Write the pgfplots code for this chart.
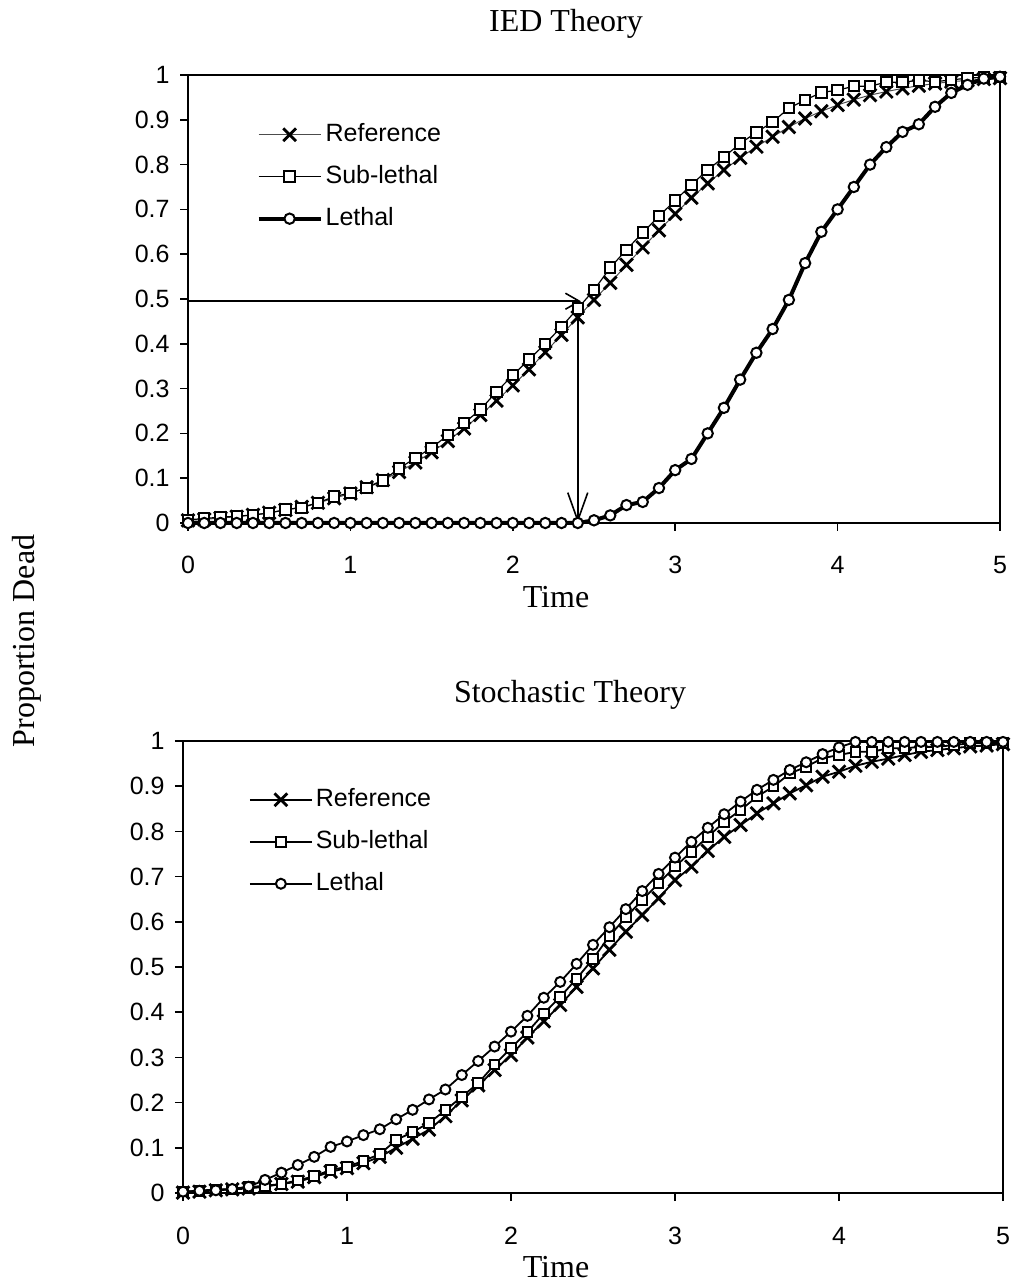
\documentclass[border=0pt]{standalone}
\usepackage{pgfplots}
\pgfplotsset{compat=1.18}
\usepackage{pgfplotstable}
\usepackage{fontspec}
\setmainfont{Liberation Serif}
\setsansfont{Liberation Sans}
\usetikzlibrary{arrows.meta}

% Proportion dead against time, IED theory
\pgfplotstableread{
t    ref    sub    leth
0.0  0.006  0.007  0
0.1  0.008  0.010  0
0.2  0.011  0.013  0
0.3  0.014  0.015  0
0.4  0.018  0.018  0
0.5  0.023  0.022  0
0.6  0.029  0.030  0
0.7  0.036  0.034  0
0.8  0.045  0.045  0
0.9  0.055  0.059  0
1.0  0.066  0.067  0
1.1  0.080  0.078  0
1.2  0.096  0.095  0
1.3  0.114  0.122  0
1.4  0.135  0.145  0
1.5  0.158  0.168  0
1.6  0.183  0.196  0
1.7  0.211  0.223  0
1.8  0.241  0.253  0
1.9  0.273  0.293  0
2.0  0.307  0.330  0
2.1  0.343  0.365  0
2.2  0.381  0.400  0
2.3  0.420  0.438  0
2.4  0.459  0.479  0
2.5  0.498  0.520  0.006
2.6  0.536  0.570  0.017
2.7  0.576  0.610  0.040
2.8  0.615  0.648  0.047
2.9  0.653  0.685  0.078
3.0  0.690  0.720  0.118
3.1  0.726  0.755  0.143
3.2  0.758  0.788  0.200
3.3  0.788  0.817  0.257
3.4  0.815  0.847  0.320
3.5  0.840  0.872  0.380
3.6  0.862  0.895  0.433
3.7  0.884  0.926  0.498
3.8  0.903  0.944  0.580
3.9  0.919  0.961  0.650
4.0  0.933  0.966  0.700
4.1  0.945  0.975  0.750
4.2  0.955  0.975  0.800
4.3  0.963  0.984  0.839
4.4  0.970  0.984  0.873
4.5  0.976  0.988  0.890
4.6  0.981  0.985  0.929
4.7  0.985  0.989  0.960
4.8  0.988  0.993  0.978
4.9  0.991  0.995  0.992
5.0  0.993  0.996  0.996
}\ied

% Proportion dead against time, stochastic theory
\pgfplotstableread{
t    ref    sub    leth
0.0  0.001  0.003  0.003
0.1  0.003  0.005  0.005
0.2  0.006  0.008  0.006
0.3  0.008  0.008  0.009
0.4  0.010  0.013  0.014
0.5  0.014  0.016  0.029
0.6  0.020  0.020  0.045
0.7  0.025  0.028  0.062
0.8  0.035  0.037  0.080
0.9  0.047  0.051  0.102
1.0  0.055  0.058  0.114
1.1  0.066  0.071  0.128
1.2  0.080  0.086  0.141
1.3  0.100  0.117  0.163
1.4  0.120  0.135  0.184
1.5  0.140  0.155  0.207
1.6  0.170  0.183  0.229
1.7  0.205  0.213  0.261
1.8  0.238  0.243  0.292
1.9  0.272  0.284  0.324
2.0  0.305  0.321  0.357
2.1  0.344  0.356  0.392
2.2  0.380  0.397  0.432
2.3  0.416  0.434  0.467
2.4  0.456  0.474  0.507
2.5  0.497  0.518  0.549
2.6  0.538  0.568  0.588
2.7  0.578  0.610  0.628
2.8  0.615  0.648  0.668
2.9  0.652  0.685  0.706
3.0  0.692  0.722  0.742
3.1  0.722  0.755  0.777
3.2  0.757  0.788  0.808
3.3  0.788  0.821  0.838
3.4  0.814  0.847  0.866
3.5  0.840  0.877  0.892
3.6  0.862  0.899  0.914
3.7  0.884  0.928  0.936
3.8  0.902  0.943  0.953
3.9  0.921  0.962  0.971
4.0  0.932  0.969  0.986
4.1  0.945  0.976  0.998
4.2  0.954  0.976  0.998
4.3  0.961  0.984  0.998
4.4  0.969  0.984  0.998
4.5  0.976  0.987  0.998
4.6  0.980  0.987  0.998
4.7  0.984  0.991  0.998
4.8  0.988  0.995  0.998
4.9  0.990  0.995  0.998
5.0  0.993  0.995  0.998
}\stoch

\pgfplotsset{
  panel/.style={
    scale only axis,
    anchor=south west,
    xmin=0, xmax=5, ymin=0, ymax=1,
    xtick={0,1,2,3,4,5},
    xticklabels={0,1,2,3,4,5},
    ytick={0,0.1,0.2,0.3,0.4,0.5,0.6,0.7,0.8,0.9,1},
    yticklabels={0,0.1,0.2,0.3,0.4,0.5,0.6,0.7,0.8,0.9,1},
    tick align=outside,
    xtick pos=left, ytick pos=left,
    major tick length=4pt,
    axis line style={line width=1.2pt},
    every tick/.style={black, line width=0.8pt},
    tick label style={font=\sffamily\fontsize{12.5}{14}\selectfont},
    yticklabel style={anchor=east, inner sep=0pt, xshift=-5pt},
    xticklabel style={anchor=base, inner sep=0pt, yshift=-21.5pt},
    clip=false,
    legend cell align=left,
    legend style={draw=none, fill=none, inner sep=0pt,
      font=\sffamily\fontsize{12.5}{14}\selectfont,
      row sep=6.5pt,
      nodes={inner sep=1.5pt, text height=9pt, text depth=2.5pt}},
    legend image code/.code={
      \draw[mark repeat=2, mark phase=2]
        plot coordinates {(0pt,0pt) (15.5pt,0pt) (31pt,0pt)};},
  },
}

\begin{document}
\begin{tikzpicture}[x=1pt,y=1pt]
\useasboundingbox (0,0) rectangle (506.5,642);

% upper panel
\begin{axis}[panel, at={(94pt,380.5pt)}, width=406pt, height=224pt,
  legend style={at={(axis cs:0.42,0.90)}, anchor=north west}]
  \draw[line width=0.8pt, -{Straight Barb[length=7pt,width=8pt,line width=0.8pt]}]
    (axis cs:0,0.495) -- (axis cs:2.42,0.495);
  \draw[line width=0.8pt, -{Straight Barb[length=14pt,width=10pt,line width=0.8pt]}]
    (axis cs:2.4,0.495) -- (axis cs:2.4,0.0);
  \addplot[gray!60!black, line width=0.5pt, mark=x, mark size=4.5pt,
    mark options={black, line width=1.4pt}] table[x=t, y=ref] {\ied};
  \addplot[black, line width=0.6pt, mark=square*, mark size=2.6pt,
    mark options={fill=white, line width=1pt}] table[x=t, y=sub] {\ied};
  \addplot[black, line width=2pt, mark=*, mark size=2.6pt,
    mark options={fill=white, line width=1pt}] table[x=t, y=leth] {\ied};
  \legend{Reference, Sub-lethal, Lethal}
\end{axis}

% lower panel
\begin{axis}[panel, at={(91.5pt,45.5pt)}, width=410pt, height=226pt,
  legend style={at={(axis cs:0.4,0.903)}, anchor=north west}]
  \addplot[black, line width=0.9pt, mark=x, mark size=4.5pt,
    mark options={line width=1.4pt}] table[x=t, y=ref] {\stoch};
  \addplot[black, line width=0.9pt, mark=square*, mark size=2.4pt,
    mark options={fill=white, line width=1pt}] table[x=t, y=sub] {\stoch};
  \addplot[black, line width=0.9pt, mark=*, mark size=2.5pt,
    mark options={fill=white, line width=1pt}] table[x=t, y=leth] {\stoch};
  \legend{Reference, Sub-lethal, Lethal}
\end{axis}

\begin{scope}[font=\fontsize{16}{19}\selectfont]
  \node[anchor=base] at (283,626) {IED Theory};
  \node[anchor=base] at (278,338) {Time};
  \node[anchor=base] at (285,290.5) {Stochastic Theory};
  \node[anchor=base] at (278,3) {Time};
  \node[anchor=base, rotate=90] at (17.5,321.5) {Proportion Dead};
\end{scope}
\end{tikzpicture}
\end{document}
